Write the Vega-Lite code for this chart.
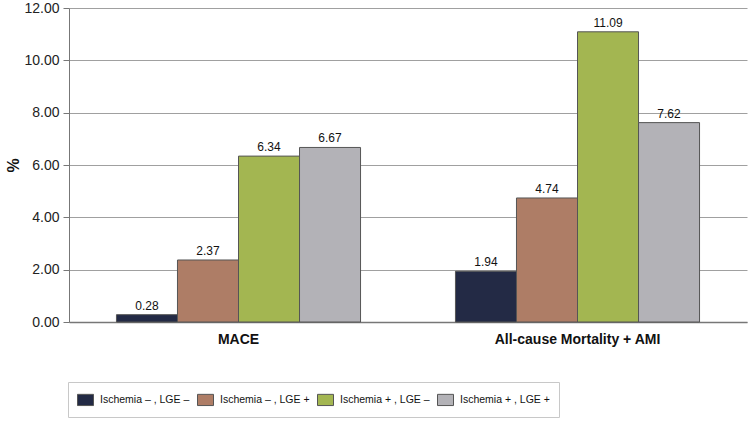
{
  "$schema": "https://vega.github.io/schema/vega-lite/v6.json",
  "width": 678,
  "height": 314,
  "autosize": "none",
  "padding": {"left": 69, "top": 8, "right": 3, "bottom": 101},
  "background": "white",
  "config": {
    "font": "Liberation Sans",
    "view": {"stroke": null}
  },
  "data": {
    "values": [
      {"outcome": "MACE", "group": "Ischemia – , LGE –", "value": 0.28},
      {"outcome": "MACE", "group": "Ischemia – , LGE +", "value": 2.37},
      {"outcome": "MACE", "group": "Ischemia + , LGE –", "value": 6.34},
      {"outcome": "MACE", "group": "Ischemia + , LGE +", "value": 6.67},
      {"outcome": "All-cause Mortality + AMI", "group": "Ischemia – , LGE –", "value": 1.94},
      {"outcome": "All-cause Mortality + AMI", "group": "Ischemia – , LGE +", "value": 4.74},
      {"outcome": "All-cause Mortality + AMI", "group": "Ischemia + , LGE –", "value": 11.09},
      {"outcome": "All-cause Mortality + AMI", "group": "Ischemia + , LGE +", "value": 7.62}
    ]
  },
  "encoding": {
    "x": {
      "field": "outcome",
      "type": "nominal",
      "sort": ["MACE", "All-cause Mortality + AMI"],
      "scale": {"paddingInner": 0.28, "paddingOuter": 0.14},
      "axis": {
        "title": null,
        "labelAngle": 0,
        "labelFontSize": 14,
        "labelFontWeight": "bold",
        "labelColor": "#111",
        "labelPadding": 10,
        "ticks": false,
        "domainColor": "#777",
        "domainWidth": 1.5
      }
    },
    "xOffset": {
      "field": "group",
      "type": "nominal",
      "sort": ["Ischemia – , LGE –", "Ischemia – , LGE +", "Ischemia + , LGE –", "Ischemia + , LGE +"],
      "scale": {"paddingInner": 0, "paddingOuter": 0}
    },
    "y": {
      "field": "value",
      "type": "quantitative",
      "scale": {"domain": [0, 12]},
      "axis": {
        "title": "%",
        "titleFontSize": 16,
        "titleFontWeight": "bold",
        "titleColor": "#111",
        "titlePadding": 2,
        "values": [0, 2, 4, 6, 8, 10, 12],
        "format": ".2f",
        "labelFontSize": 14,
        "labelColor": "#222",
        "labelPadding": 4,
        "tickSize": 6,
        "tickColor": "#777",
        "domainColor": "#777",
        "gridColor": "#a0a0a0",
        "gridWidth": 1
      }
    }
  },
  "layer": [
    {
      "mark": {"type": "bar", "stroke": "#555", "strokeWidth": 1},
      "encoding": {
        "color": {
          "field": "group",
          "type": "nominal",
          "sort": ["Ischemia – , LGE –", "Ischemia – , LGE +", "Ischemia + , LGE –", "Ischemia + , LGE +"],
          "scale": {"range": ["#232a45", "#ae7d66", "#a3b651", "#b3b2b7"]},
          "legend": {
            "title": null,
            "orient": "none",
            "legendX": -1,
            "legendY": 374,
            "direction": "horizontal",
            "columns": 4,
            "gridAlign": "all",
            "columnPadding": 5,
            "padding": 9,
            "strokeColor": "#c8c8c8",
            "symbolType": "M-1,-0.7H1V0.7H-1Z",
            "symbolSize": 256,
            "symbolStrokeColor": "#555",
            "symbolStrokeWidth": 1,
            "labelFontSize": 10.5,
            "labelColor": "#111",
            "labelOffset": 6
          }
        }
      }
    },
    {
      "mark": {"type": "text", "dy": -9, "fontSize": 12, "color": "#111"},
      "encoding": {
        "text": {"field": "value", "type": "quantitative", "format": ".2f"}
      }
    }
  ]
}
